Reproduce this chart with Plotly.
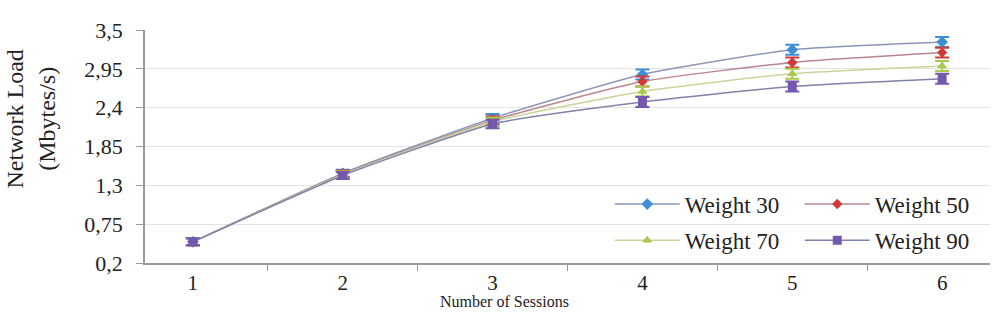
import plotly.graph_objects as go

sessions = ["1", "2", "3", "4", "5", "6"]
series_names = ["Weight 30", "Weight 50", "Weight 70", "Weight 90"]
w30 = [0.50, 1.47, 2.25, 2.87, 3.22, 3.33]
w50 = [0.50, 1.46, 2.22, 2.77, 3.04, 3.18]
w70 = [0.50, 1.45, 2.20, 2.63, 2.88, 2.99]
w90 = [0.50, 1.44, 2.17, 2.48, 2.70, 2.81]
err = [0.05, 0.05, 0.06, 0.07, 0.07, 0.07]
y_ticks = [0.2, 0.75, 1.3, 1.85, 2.4, 2.95, 3.5]
y_tick_labels = ["0,2", "0,75", "1,3", "1,85", "2,4", "2,95", "3,5"]

values = [w30, w50, w70, w90]
line_colors = ["#8c96b8", "#b9868c", "#cdd39a", "#7f82aa"]
marker_colors = ["#3d8fd6", "#d23a3a", "#a9c94a", "#7458ad"]
symbols = ["diamond", "diamond", "triangle-up", "square"]
msizes = [9, 8, 9, 9]
legends = ["legend", "legend", "legend2", "legend2"]

FONT = "Liberation Serif, Times New Roman, serif"
TXT = "#222222"

fig = go.Figure()
for name, vals, lc, mc, sym, ms, lg in zip(series_names, values, line_colors,
                                            marker_colors, symbols, msizes, legends):
    fig.add_trace(go.Scatter(
        x=sessions, y=vals, name=name, mode="lines+markers",
        line=dict(color=lc, width=1.5, shape="spline", smoothing=0.5),
        marker=dict(color=mc, symbol=sym, size=ms),
        error_y=dict(type="data", array=err, color=mc, thickness=2, width=7),
        legend=lg,
    ))

leg_common = dict(orientation="h", x=0.55, xanchor="left",
                  bgcolor="rgba(0,0,0,0)", entrywidth=110, entrywidthmode="pixels",
                  font=dict(family=FONT, size=23, color=TXT), itemwidth=65)

fig.update_layout(
    width=996, height=312,
    margin=dict(l=145, r=6, t=30, b=49),
    paper_bgcolor="white", plot_bgcolor="white",
    font=dict(family=FONT, size=22, color=TXT),
    showlegend=True,
    legend=dict(y=0.345, yanchor="top", **leg_common),
    legend2=dict(y=0.19, yanchor="top", **leg_common),
    xaxis=dict(
        type="category", tickson="boundaries", ticks="outside", ticklen=6,
        tickcolor="#9a9a9a", showline=True, linecolor="#9a9a9a", linewidth=1.5,
        showgrid=False, tickfont=dict(family=FONT, size=21, color=TXT),
    ),
    yaxis=dict(
        range=[0.2, 3.5], tickvals=y_ticks, ticktext=y_tick_labels,
        ticks="outside", ticklen=7, tickcolor="#9a9a9a", ticklabelstandoff=9,
        showline=True, linecolor="#9a9a9a", linewidth=1.5,
        showgrid=True, gridcolor="#e3e3e3", gridwidth=1, zeroline=False,
        tickfont=dict(family=FONT, size=22, color=TXT),
    ),
    annotations=[
        dict(text="Network Load<br>(Mbytes/s)", xref="paper", yref="paper",
             x=-0.135, y=0.62, xanchor="center", yanchor="middle", textangle=-90,
             showarrow=False, font=dict(family=FONT, size=24, color=TXT)),
        dict(text="Number of Sessions", xref="paper", yref="paper",
             x=0.426, y=-0.21, xanchor="center", yanchor="bottom", showarrow=False,
             font=dict(family=FONT, size=16, color=TXT)),
    ],
)

fig.write_html("out.html")
